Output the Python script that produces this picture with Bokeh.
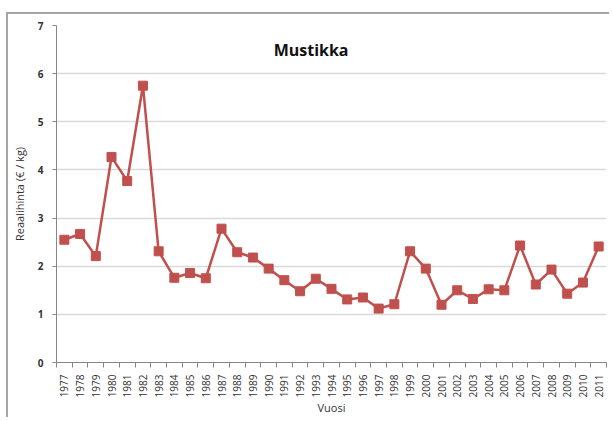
from bokeh.plotting import figure
from bokeh.models import FixedTicker, Label
from bokeh.embed import file_html
from bokeh.resources import INLINE

years = [str(y) for y in range(1977, 2012)]
prices = [2.55, 2.67, 2.21, 4.27, 3.77, 5.75, 2.31, 1.76, 1.86, 1.75,
          2.78, 2.29, 2.18, 1.95, 1.71, 1.48, 1.74, 1.53, 1.31, 1.35,
          1.12, 1.21, 2.31, 1.95, 1.20, 1.50, 1.32, 1.52, 1.50, 2.43,
          1.62, 1.93, 1.43, 1.66, 2.41]
y_ticks = [0, 1, 2, 3, 4, 5, 6, 7]
title_text = "Mustikka"
x_label = "Vuosi"
y_label = "Reaalihinta (€ / kg)"

FONT = "Open Sans"
RED = "#C0504D"

idx = list(range(len(years)))

p = figure(width=603, height=405, output_backend="svg", toolbar_location=None,
           x_range=(-0.5, len(years) - 0.5), y_range=(0, 7),
           min_border_left=48, min_border_top=11, min_border_right=5,
           min_border_bottom=57)
p.styles = {"border-top": "2px solid #a6a6a6", "border-left": "2px solid #a6a6a6",
            "margin-left": "6px", "margin-top": "12px"}
p.outline_line_color = None
p.background_fill_color = "white"
p.border_fill_color = "white"

p.line(idx, prices, line_color=RED, line_width=2.5)
p.scatter(idx, prices, marker="square", size=9, fill_color=RED, line_color=RED)

# x axis: labels at centres, ticks at category boundaries
p.xaxis.ticker = FixedTicker(ticks=idx, minor_ticks=[i - 0.5 for i in range(len(years) + 1)])
p.xaxis.major_label_overrides = {i: y for i, y in zip(idx, years)}
p.xaxis.major_label_orientation = 1.5708
p.xaxis.major_tick_line_color = None
p.xaxis.minor_tick_line_color = "#868686"
p.xaxis.minor_tick_in = 0
p.xaxis.minor_tick_out = 5
p.xaxis.axis_line_color = "#868686"
p.xaxis.major_label_text_font = FONT
p.xaxis.major_label_text_font_size = "10px"
p.xaxis.major_label_text_color = "#333333"
p.xaxis.major_label_standoff = 6
p.xaxis.axis_label = x_label
p.xaxis.axis_label_text_font = FONT
p.xaxis.axis_label_text_font_size = "11px"
p.xaxis.axis_label_text_font_style = "normal"
p.xaxis.axis_label_text_color = "#333333"
p.xaxis.axis_label_standoff = 0

p.yaxis.ticker = FixedTicker(ticks=y_ticks, minor_ticks=[])
p.yaxis.axis_line_color = "#868686"
p.yaxis.major_tick_line_color = "#868686"
p.yaxis.major_tick_in = 0
p.yaxis.major_tick_out = 4
p.yaxis.minor_tick_line_color = None
p.yaxis.major_label_text_font = FONT
p.yaxis.major_label_text_font_size = "10px"
p.yaxis.major_label_text_font_style = "bold"
p.yaxis.major_label_text_color = "#333333"
p.yaxis.major_label_standoff = 9
p.yaxis.axis_label = y_label
p.yaxis.axis_label_text_font = FONT
p.yaxis.axis_label_text_font_size = "11px"
p.yaxis.axis_label_text_font_style = "normal"
p.yaxis.axis_label_text_color = "#333333"
p.yaxis.axis_label_standoff = 8

p.xgrid.grid_line_color = None
p.ygrid.grid_line_color = "#d9d9d9"
p.ygrid.grid_line_width = 1.5

p.add_layout(Label(x=15.7, y=6.5, text=title_text, text_align="center",
                   text_baseline="middle", text_font=FONT, text_font_size="16px",
                   text_font_style="bold", text_color="#111111"))

open("out.html", "w").write(file_html(p, INLINE))
